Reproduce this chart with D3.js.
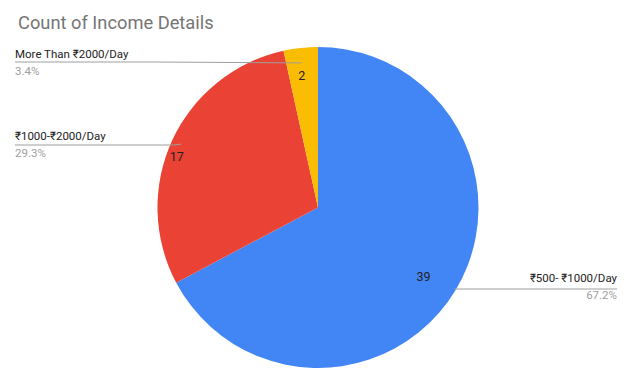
<!DOCTYPE html>
<html><head><meta charset="utf-8">
<script src="https://cdn.jsdelivr.net/npm/d3@7"></script>
<style>html,body{margin:0;padding:0;background:#fff;}svg{display:block;}</style>
</head><body>
<svg id="c" width="628" height="369"></svg>
<script>
const categories = ["₹500- ₹1000/Day", "₹1000-₹2000/Day", "More Than ₹2000/Day"];
const counts = [39, 17, 2];
const colors = ["#4285F4", "#EA4335", "#FBBC04"];

// layout (not data)
const cx = 318, cy = 207.5, R = 160.5;
const numRadius = [126, 150, 133];
const numAngleShiftDeg = [2, -5.2, -0.8];
const legendLayout = [
  {side: "right", tx: 617, ty: 282, ly: 289, startR: 0.99},
  {side: "left",  tx: 15,  ty: 140, ly: 145, startR: 0.94},
  {side: "left",  tx: 15,  ty: 58,  ly: 62,  startR: 0.95, elbowX: 155}
];

const svg = d3.select("#c");
const total = d3.sum(counts);
const pie = d3.pie().sort(null).value(d => d)(counts);
const arc = d3.arc().innerRadius(0).outerRadius(R);

svg.append("text").attr("x", 18).attr("y", 29)
  .attr("font-family", "Roboto, Arial, sans-serif").attr("font-size", 18.3)
  .attr("fill", "#757575").text("Count of Income Details");

const g = svg.append("g").attr("transform", `translate(${cx},${cy})`);
g.selectAll("path").data(pie).join("path")
  .attr("d", arc).attr("fill", (d, i) => colors[i]);

const mid = d => (d.startAngle + d.endAngle) / 2;
const pt = (a, r) => [cx + r * Math.sin(a), cy - r * Math.cos(a)];

// numbers
pie.forEach((d, i) => {
  const a = mid(d) + numAngleShiftDeg[i] * Math.PI / 180;
  const [x, y] = pt(a, numRadius[i]);
  svg.append("text").attr("x", x).attr("y", y).attr("dy", "0.35em")
    .attr("text-anchor", "middle")
    .attr("font-family", "Roboto, Arial, sans-serif").attr("font-size", 12.5)
    .attr("fill", "#222").text(counts[i]);
});

// leaders & labels
const fmt = d3.format(".1%");
pie.forEach((d, i) => {
  const L = legendLayout[i];
  const [sx, sy] = pt(mid(d), R * L.startR);
  let pts;
  if (L.side === "right") {
    pts = [[sx, L.ly], [L.tx, L.ly]];
  } else if (L.elbowX) {
    pts = [[sx, sy + 7], [L.elbowX, L.ly], [L.tx, L.ly]];
  } else {
    pts = [[sx, sy], [sx - 8, L.ly], [L.tx, L.ly]];
  }
  svg.append("path").attr("d", d3.line()(pts))
    .attr("fill", "none").attr("stroke", "#9e9e9e").attr("stroke-width", 1);
  const anchor = L.side === "right" ? "end" : "start";
  svg.append("text").attr("x", L.tx).attr("y", L.ty).attr("text-anchor", anchor)
    .attr("font-family", "Roboto, Arial, sans-serif").attr("font-size", 11.5)
    .attr("fill", "#222").text(categories[i]);
  svg.append("text").attr("x", L.tx).attr("y", L.ty + 17).attr("text-anchor", anchor)
    .attr("font-family", "Roboto, Arial, sans-serif").attr("font-size", 11.5)
    .attr("fill", "#9e9e9e").text(fmt(counts[i] / total));
});
</script>
</body></html>
